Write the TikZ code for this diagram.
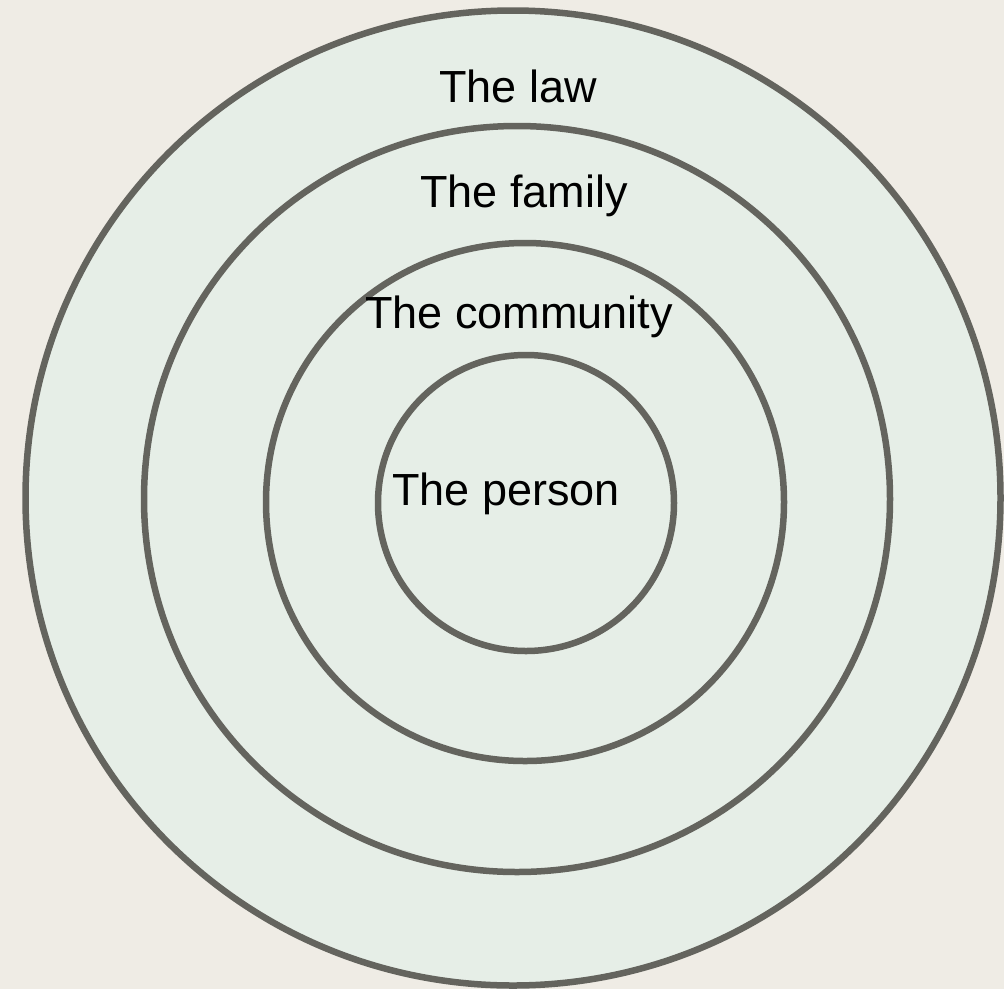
\documentclass[tikz,border=0pt]{standalone}
\usepackage{fontspec}
\setmainfont{Liberation Sans}
\definecolor{bgc}{HTML}{EFECE5}
\definecolor{ringfill}{HTML}{E6EEE7}
\definecolor{ringline}{HTML}{64645E}
\begin{document}
\begin{tikzpicture}[x=1pt,y=-1pt,
  ring/.style={circle,draw=ringline,fill=ringfill,line width=6.5pt,inner sep=0pt},
  lbl/.style={anchor=base,inner sep=0pt,font=\fontsize{45}{54}\selectfont,text=black}]
\fill[bgc] (0,0) rectangle (1004,989);
\useasboundingbox (0,0) rectangle (1004,989);
\node[ring,minimum size=975pt] (law) at (513,498) {};
\node[ring,minimum size=746pt] (family) at (517,499) {};
\node[ring,minimum size=518pt] (community) at (525,502) {};
\node[ring,minimum size=296pt] (person) at (526,503) {};
\node[lbl] (tlaw) at (518,102) {The law};
\node[lbl] (tfamily) at (524,207) {The family};
\node[lbl] (tcommunity) at (519,328) {The community};
\node[lbl] (tperson) at (506,505) {The person};
\end{tikzpicture}
\end{document}
